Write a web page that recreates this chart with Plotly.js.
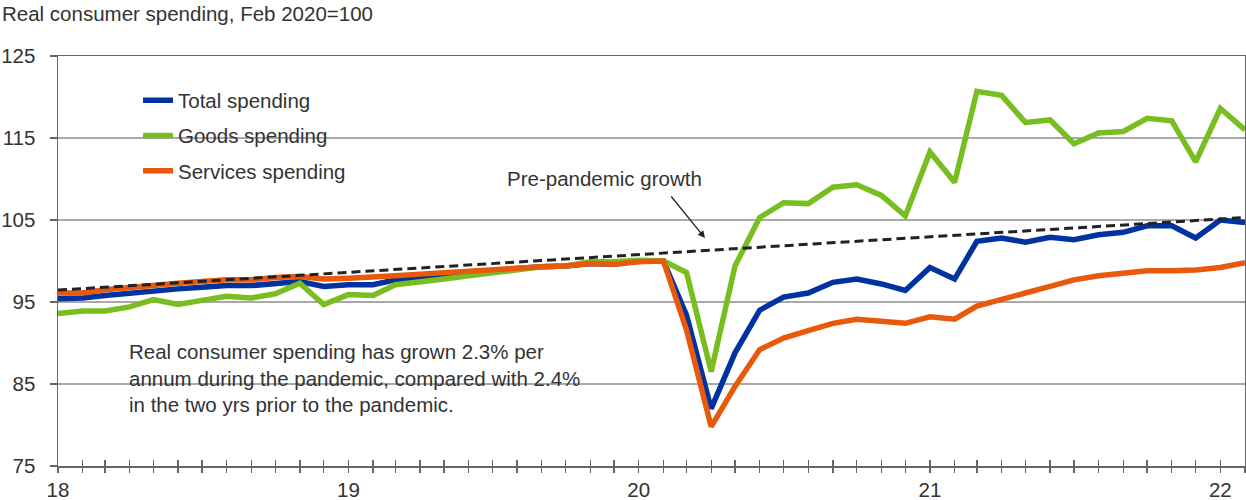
<!DOCTYPE html>
<html>
<head>
<meta charset="utf-8">
<script src="https://cdn.plot.ly/plotly-3.0.1.min.js"></script>
<style>
  html, body { margin: 0; padding: 0; background: #fff; }
  #chart { width: 1246px; height: 500px; }
</style>
</head>
<body>
<div id="chart"></div>
<script>
// Months, Jan 2018 - Feb 2022
const months = [
  '2018-01','2018-02','2018-03','2018-04','2018-05','2018-06','2018-07','2018-08','2018-09','2018-10','2018-11','2018-12',
  '2019-01','2019-02','2019-03','2019-04','2019-05','2019-06','2019-07','2019-08','2019-09','2019-10','2019-11','2019-12',
  '2020-01','2020-02','2020-03','2020-04','2020-05','2020-06','2020-07','2020-08','2020-09','2020-10','2020-11','2020-12',
  '2021-01','2021-02','2021-03','2021-04','2021-05','2021-06','2021-07','2021-08','2021-09','2021-10','2021-11','2021-12',
  '2022-01','2022-02'
];

const totalSpending = [
  95.4, 95.5, 95.8, 96.1, 96.3, 96.6, 96.8, 97.0, 97.0, 97.3, 97.5, 96.9,
  97.1, 97.1, 97.7, 98.0, 98.3, 98.6, 98.9, 99.1, 99.3, 99.4, 99.7, 99.6,
  100.0, 100.0, 93.4, 82.0, 88.8, 94.0, 95.6, 96.1, 97.4, 97.8, 97.2, 96.4,
  99.2, 97.8, 102.4, 102.8, 102.3, 102.9, 102.6, 103.2, 103.5, 104.3, 104.3, 102.8,
  105.0, 104.7
];

const goodsSpending = [
  93.6, 93.9, 93.9, 94.4, 95.3, 94.7, 95.2, 95.7, 95.5, 96.0, 97.3, 94.7,
  95.9, 95.8, 97.1, 97.4, 97.8, 98.2, 98.6, 99.0, 99.3, 99.4, 99.9, 99.9,
  100.1, 100.0, 98.6, 86.5, 99.4, 105.3, 107.1, 107.0, 109.0, 109.3, 108.0, 105.5,
  113.3, 109.6, 120.7, 120.2, 116.9, 117.2, 114.3, 115.6, 115.8, 117.4, 117.1, 112.1,
  118.6, 116.0
];

const servicesSpending = [
  96.1, 96.1, 96.5, 96.8, 97.0, 97.3, 97.5, 97.7, 97.7, 98.0, 98.1, 97.8,
  97.9, 98.0, 98.2, 98.4, 98.6, 98.8, 99.0, 99.2, 99.3, 99.4, 99.7, 99.6,
  99.9, 100.0, 91.6, 79.8, 84.7, 89.2, 90.6, 91.5, 92.4, 92.9, 92.7, 92.4,
  93.2, 92.9, 94.5, 95.4, 96.1, 96.9, 97.7, 98.2, 98.5, 98.8, 98.8, 98.9,
  99.2, 99.8
];

// Pre-pandemic growth trend (straight line)
const trendMonths = ['2018-01', '2022-02'];
const trendValues = [96.45, 105.3];

const yTicks = [75, 85, 95, 105, 115, 125];
const xTickVals = ['2018-01-01', '2019-01-01', '2020-01-01', '2021-01-01', '2022-01-01'];
const xTickText = ['18', '19', '20', '21', '22'];

const FONT = 'Liberation Sans, Arial, sans-serif';
const TXT = '#333333';
const FS = 20.5;

const traces = [
  { x: months, y: totalSpending, name: 'Total spending', type: 'scatter', mode: 'lines',
    line: { color: '#0033a0', width: 5.5 }, legendgroup: 'a' },
  { x: months, y: goodsSpending, name: 'Goods spending', type: 'scatter', mode: 'lines',
    line: { color: '#78be20', width: 5.5 }, legendgroup: 'b' },
  { x: months, y: servicesSpending, name: 'Services spending', type: 'scatter', mode: 'lines',
    line: { color: '#e8590c', width: 5.5 }, legendgroup: 'c' },
  { x: trendMonths, y: trendValues, name: 'Pre-pandemic growth', type: 'scatter', mode: 'lines',
    xaxis: 'x2', line: { color: '#222222', width: 3, dash: '9px,5px' }, showlegend: false }
];

const xRange = ['2018-01-01', '2022-02-01'];

const layout = {
  width: 1246, height: 500,
  margin: { l: 58, r: 1, t: 56, b: 34 },
  paper_bgcolor: '#ffffff', plot_bgcolor: '#ffffff',
  font: { family: FONT, size: FS, color: TXT },
  showlegend: true,
  title: {
    text: 'Real consumer spending, Feb 2020=100',
    font: { family: FONT, size: FS, color: TXT },
    xref: 'container', yref: 'container',
    x: 2 / 1246, xanchor: 'left', y: 1 - 14 / 500, yanchor: 'middle'
  },
  xaxis: {
    type: 'date', range: xRange,
    tickvals: xTickVals, ticktext: xTickText,
    ticks: 'inside', ticklen: 6, tickcolor: '#666666', tickwidth: 1.3,
    minor: { dtick: 'M1', tick0: '2018-01-01', ticks: 'inside', ticklen: 6, tickcolor: '#666666', tickwidth: 1.3, showgrid: false },
    showline: true, linecolor: '#666666', linewidth: 1.5, mirror: true,
    showgrid: false, zeroline: false,
    tickfont: { family: FONT, size: FS, color: TXT },
    ticklabelstandoff: 5
  },
  xaxis2: {
    type: 'date', range: xRange, overlaying: 'x', anchor: 'y', side: 'bottom',
    dtick: 'M1', tick0: '2018-01-01',
    ticks: 'outside', ticklen: 6, tickcolor: '#666666', tickwidth: 1.3,
    showticklabels: false, showline: false, showgrid: false, zeroline: false
  },
  yaxis: {
    range: [75, 125], tickvals: yTicks,
    ticks: 'outside', ticklen: 7, tickcolor: '#666666', tickwidth: 1.3,
    showline: true, linecolor: '#666666', linewidth: 1.5, mirror: true,
    showgrid: true, gridcolor: '#a9a9a9', gridwidth: 1.3, zeroline: false,
    tickfont: { family: FONT, size: FS, color: TXT },
    ticklabelstandoff: 10
  },
  legend: {
    x: (138 - 58) / 1187, xanchor: 'left',
    y: (466 - 80.5) / 410, yanchor: 'top',
    bgcolor: 'rgba(255,255,255,0)', borderwidth: 0,
    traceorder: 'grouped', tracegroupgap: 5.5,
    itemwidth: 30,
    font: { family: FONT, size: FS, color: TXT }
  },
  shapes: [
    { type: 'rect', xref: 'paper', yref: 'paper', layer: 'between',
      x0: (120 - 58) / 1187, x1: (377 - 58) / 1187, y0: (466 - 190) / 410, y1: (466 - 80) / 410,
      fillcolor: '#ffffff', line: { width: 0 } },
    { type: 'rect', xref: 'paper', yref: 'paper', layer: 'between',
      x0: (116 - 58) / 1187, x1: (623 - 58) / 1187, y0: (466 - 420) / 410, y1: (466 - 335) / 410,
      fillcolor: '#ffffff', line: { width: 0 } }
  ],
  annotations: [
    { xref: 'paper', yref: 'paper', x: (127 - 58) / 1187, y: (466 - 338) / 410,
      xanchor: 'left', yanchor: 'top', align: 'left', showarrow: false,
      text: 'Real consumer spending has grown 2.3% per<br>annum during the pandemic, compared with 2.4%<br>in the two yrs prior to the pandemic.',
      font: { family: FONT, size: FS, color: TXT } },
    { xref: 'paper', yref: 'paper', x: (604 - 58) / 1187, y: (466 - 178) / 410,
      xanchor: 'center', yanchor: 'middle', showarrow: false,
      text: 'Pre-pandemic growth',
      font: { family: FONT, size: FS, color: TXT } },
    { xref: 'paper', yref: 'paper', x: (705 - 58) / 1187, y: (466 - 238) / 410,
      text: '', showarrow: true, ax: -35, ay: -43,
      arrowhead: 2, arrowsize: 1.1, arrowwidth: 1.3, arrowcolor: '#222222', standoff: 0 }
  ]
};

Plotly.newPlot('chart', traces, layout, { displayModeBar: false, staticPlot: true });
</script>
</body>
</html>
